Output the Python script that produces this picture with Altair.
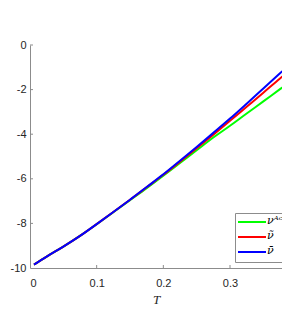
import altair as alt
import pandas as pd

T = [0.006, 0.025, 0.05, 0.075, 0.1, 0.125, 0.15, 0.175, 0.2, 0.225, 0.25, 0.275, 0.3, 0.325, 0.35, 0.375, 0.388]
nu_ac = [-9.85, -9.49, -9.04, -8.56, -8.04, -7.50, -6.96, -6.42, -5.86, -5.29, -4.72, -4.15, -3.62, -3.07, -2.53, -1.98, -1.70]
nu_tilde = [-9.85, -9.49, -9.04, -8.56, -8.03, -7.49, -6.94, -6.38, -5.82, -5.23, -4.63, -4.02, -3.40, -2.77, -2.14, -1.50, -1.18]
nu_bar = [-9.85, -9.49, -9.04, -8.56, -8.03, -7.49, -6.94, -6.37, -5.80, -5.19, -4.57, -3.94, -3.30, -2.63, -1.95, -1.27, -0.92]

labels = ["νᴬᶜ", "ν̃", "ν̄"]
colors = ["#00ff00", "#ff0000", "#0000ff"]
x_ticks = [0.1, 0.2, 0.3]
y_ticks = [-8, -6, -4, -2, 0]

rows = []
for name, vals in zip(labels, [nu_ac, nu_tilde, nu_bar]):
    for t, v in zip(T, vals):
        rows.append({"T": t, "v": v, "s": name})
df = pd.DataFrame(rows)

xs = alt.Scale(domain=[0, 0.378], nice=False, zero=False)
ys = alt.Scale(domain=[-10, 0], nice=False)
GRAY = "#8c8c8c"

lines = alt.Chart(df).mark_line(strokeWidth=2, clip=True, interpolate="monotone").encode(
    x=alt.X("T:Q", scale=xs, title="T",
            axis=alt.Axis(values=[0, 0.1, 0.2, 0.3], ticks=False, grid=False,
                          labelExpr="datum.value == 0 ? '0' : format(datum.value, '.1f')",
                          domainColor=GRAY, labelColor="#262626", labelFont="Liberation Sans",
                          labelFontSize=11, labelPadding=9,
                          titleFont="Liberation Serif", titleFontStyle="italic", titleFontWeight="normal",
                          titleFontSize=13, titleColor="#262626", titlePadding=5)),
    y=alt.Y("v:Q", scale=ys, title=None,
            axis=alt.Axis(values=[-10, -8, -6, -4, -2, 0], ticks=False, grid=False,
                          labelExpr="replace(datum.label, '−', '-')",
                          domainColor=GRAY, labelColor="#262626", labelFont="Liberation Sans",
                          labelFontSize=11, labelPadding=4)),
    color=alt.Color("s:N", scale=alt.Scale(domain=labels, range=colors), sort=labels, legend=None),
    order=alt.Order("s:N"),
)

xt = alt.Chart(pd.DataFrame({"t": x_ticks})).mark_rule(color=GRAY, strokeWidth=1).encode(
    x=alt.X("t:Q", scale=xs), y=alt.value(223), y2=alt.value(220))
yt = alt.Chart(pd.DataFrame({"t": y_ticks})).mark_rule(color=GRAY, strokeWidth=1).encode(
    y=alt.Y("t:Q", scale=ys), x=alt.value(0), x2=alt.value(3))

# legend box and entries (decoration)
one = pd.DataFrame({"a": [0]})
legend_layers = [
    alt.Chart(one).mark_rect(fill="white", stroke=GRAY, strokeWidth=1).encode(
        x=alt.value(205.5), x2=alt.value(270), y=alt.value(168.5), y2=alt.value(217.5))
]
for i, (lab, col) in enumerate(zip(labels, colors)):
    yy = 177 + 15 * i
    legend_layers.append(alt.Chart(one).mark_rule(color=col, strokeWidth=2).encode(
        x=alt.value(208), x2=alt.value(236), y=alt.value(yy)))
    legend_layers.append(alt.Chart(one).mark_text(
        align="left", baseline="middle", font="DejaVu Serif", fontStyle="italic",
        fontSize=11, color="#000000").encode(
        x=alt.value(237), y=alt.value(yy - 1), text=alt.value(lab)))

chart = alt.layer(xt, yt, lines, *legend_layers).properties(
    width=252, height=223,
    autosize=alt.AutoSizeParams(type="none"),
    padding={"left": 22, "top": 37, "right": 0, "bottom": 48},
).configure_view(stroke=None)

chart.save("out.html", embed_options={"renderer": "svg", "actions": False})
